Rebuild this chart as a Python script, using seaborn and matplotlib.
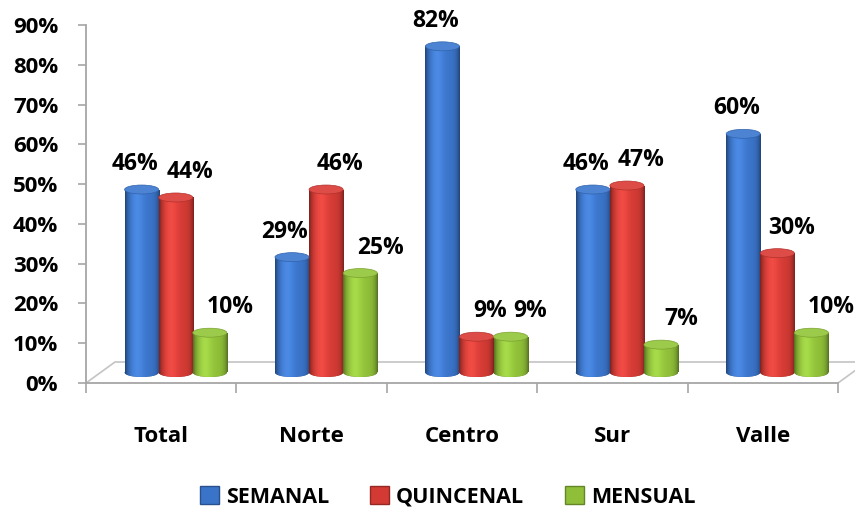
import numpy as np
import pandas as pd
import matplotlib
matplotlib.use("Agg")
import matplotlib.pyplot as plt
from matplotlib.patches import Ellipse, Patch
from matplotlib.colors import to_rgb
import seaborn as sns

# Data
regiones = ["Total", "Norte", "Centro", "Sur", "Valle"]
frecuencias = ["SEMANAL", "QUINCENAL", "MENSUAL"]
semanal = [46, 29, 82, 46, 60]
quincenal = [44, 46, 9, 47, 30]
mensual = [10, 25, 9, 7, 10]
colores = ["#3a74c9", "#d33a34", "#8fbf38"]
y_ticks = list(range(0, 100, 10))

df = pd.DataFrame({
    "Region": regiones * 3,
    "Frecuencia": np.repeat(frecuencias, len(regiones)),
    "Valor": semanal + quincenal + mensual,
})

sns.set_theme(style="white")
plt.rcParams["font.family"] = ["Open Sans", "DejaVu Sans"]
plt.rcParams["text.color"] = "black"

W, H = 855, 509
fig = plt.figure(figsize=(W / 100, H / 100), dpi=100)
fig.patch.set_facecolor("white")
ax = fig.add_axes([86 / W, (H - 383) / H, 752 / W, 358 / H])

sns.barplot(data=df, x="Region", y="Valor", hue="Frecuencia",
            order=regiones, hue_order=frecuencias, palette=colores,
            width=0.68, saturation=1, errorbar=None, legend=False, ax=ax)

# pixel scale of the axes (used for the oblique 3D floor and cylinder caps)
PX_X = 752 / 5
PX_Y = 358 / 90
DX = 29 / PX_X      # depth offset of the floor, horizontal
DY = 21 / PX_Y      # depth offset of the floor, vertical
EH = 9 / PX_Y       # height of the elliptical cylinder caps
label_dx = [-7, 14, 20]  # per-series horizontal nudge of value labels (px)
gray = "#a6a6a6"
FS = 16.5


def cylinder_gradient(base, n=80):
    t = np.linspace(0, 1, n)
    edge = np.abs(2 * t - 1) ** 5
    g = np.exp(-((t - 0.35) / 0.2) ** 2)
    shade = 1.0 - 0.42 * edge + 0.08 * g
    col = np.clip(base[None, :] * shade[:, None] + 0.05 * g[:, None], 0, 1)
    return col[None, :, :]


for k, cont in enumerate(ax.containers):
    base = np.array(to_rgb(colores[k]))
    img = cylinder_gradient(base)
    dark = base * 0.7
    light = np.clip(base * 0.95 + 0.08, 0, 1)
    for bar in cont:
        w = bar.get_width()
        h = bar.get_height()
        x0 = bar.get_x() + DX / 2
        y0 = DY / 2
        bar.set_x(x0)
        bar.set_y(y0)
        bar.set_edgecolor("none")
        bar.set_zorder(3)
        cx = x0 + w / 2

        bottom = Ellipse((cx, y0), w, EH, facecolor=dark, edgecolor="none", zorder=3)
        ax.add_patch(bottom)
        for clip in (bar, bottom):
            im = ax.imshow(img, extent=[x0, x0 + w, y0 - EH / 2, y0 + h],
                           aspect="auto", interpolation="bilinear", zorder=3.1)
            im.set_clip_path(clip)
        top = Ellipse((cx, y0 + h), w, EH, facecolor=light,
                      edgecolor=base * 0.85, linewidth=0.5, zorder=3.3)
        ax.add_patch(top)

        ax.text(cx + label_dx[k] / PX_X, y0 + h + EH / 2 + 15 / PX_Y, f"{h:.0f}%",
                ha="center", va="baseline", fontsize=FS, fontweight="bold",
                color="black", zorder=5)

# oblique floor
ax.plot([-0.5, -0.5 + DX, 4.5 + DX, 4.5], [0, DY, DY, 0],
        color="#c4c4c4", lw=1.2, clip_on=False, zorder=1)

ax.set_xlim(-0.5, 4.5)
ax.set_ylim(0, 90)
for side in ("top", "right"):
    ax.spines[side].set_visible(False)
for side in ("left", "bottom"):
    ax.spines[side].set_color(gray)
    ax.spines[side].set_linewidth(1.3)

ax.set_yticks(y_ticks)
ax.set_yticklabels([f"{t}%" for t in y_ticks], fontsize=16, fontweight="bold", color="black")
ax.tick_params(axis="y", left=True, length=6, width=1.2, color=gray, pad=14)

ax.set_xticks(range(len(regiones)))
ax.set_xticklabels(regiones, fontsize=16, fontweight="bold", color="black")
ax.set_xticks(np.arange(-0.5, len(regiones), 1), minor=True)
ax.tick_params(axis="x", which="major", bottom=True, length=0, pad=31)
ax.tick_params(axis="x", which="minor", bottom=True, length=7, width=1.2, color=gray)
ax.set_xlabel("")
ax.set_ylabel("")

handles = [Patch(facecolor=c, edgecolor=tuple(np.array(to_rgb(c)) * 0.7)) for c in colores]
fig.legend(handles=handles, labels=frecuencias, loc="center",
           bbox_to_anchor=(448 / W, (H - 497) / H), ncol=3, frameon=False,
           handlelength=0.85, handleheight=0.85, handletextpad=0.35, columnspacing=1.9,
           prop={"weight": "bold", "size": 15.5})

fig.savefig("out.png", dpi=100, facecolor="white")
